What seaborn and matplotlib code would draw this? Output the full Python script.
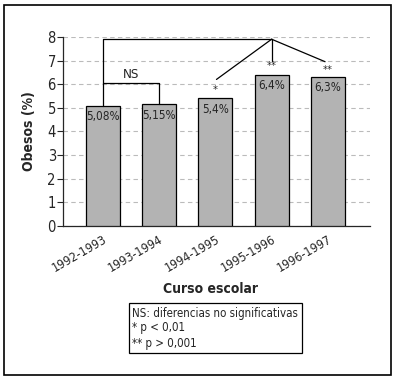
import matplotlib
matplotlib.use("Agg")
import matplotlib.pyplot as plt
import seaborn as sns
import pandas as pd

# datos
cursos = ['1992-1993', '1993-1994', '1994-1995', '1995-1996', '1996-1997']
obesos = [5.08, 5.15, 5.4, 6.4, 6.3]
etiquetas = ['5,08%', '5,15%', '5,4%', '6,4%', '6,3%']
signif = ['', '', '*', '**', '**']

sns.set_style('white')
plt.rcParams['font.family'] = ['DejaVu Sans']
plt.rcParams['font.stretch'] = 'condensed'

df = pd.DataFrame({'curso': cursos, 'obesos': obesos})

fig = plt.figure(figsize=(3.95, 3.8), dpi=100)
ax = fig.add_axes([0.159, 0.405, 0.778, 0.498])
sns.barplot(data=df, x='curso', y='obesos', color='#b3b3b3', edgecolor='black',
            linewidth=0.9, width=0.6, saturation=1, ax=ax, zorder=3)

ax.set_ylim(0, 8)
ax.set_xlim(-0.71, 4.75)
ax.set_yticks(range(9))
ax.yaxis.grid(True, linestyle=(0, (4, 3)), color='#bbbbbb', linewidth=0.8, zorder=0)
ax.set_axisbelow(True)
sns.despine(ax=ax)
ax.spines['left'].set_linewidth(0.9)
ax.spines['bottom'].set_linewidth(0.9)
ax.tick_params(axis='y', left=True, length=4, width=0.8, labelsize=10.5, pad=1)
ax.tick_params(axis='x', bottom=False, labelsize=9, pad=1)
plt.setp(ax.get_xticklabels(), rotation=30, ha='right', rotation_mode='anchor')
ax.set_xlabel('')
ax.set_ylabel('Obesos (%)', fontsize=10, fontweight='bold', labelpad=8)
fig.text(211 / 395, 1 - 289 / 380, 'Curso escolar',
         ha='center', va='center', fontsize=10, fontweight='bold')

# etiquetas dentro de las barras
for i, (v, t) in enumerate(zip(obesos, etiquetas)):
    ax.text(i, v - 0.18, t, ha='center', va='top', fontsize=8.5, zorder=4)

# asteriscos
star_y = [0, 0, 5.75, 6.75, 6.6]
for i, s in enumerate(signif):
    if s:
        ax.text(i, star_y[i], s, ha='center', va='center', fontsize=8, zorder=4)

# corchetes
lk = dict(color='black', linewidth=0.9, zorder=4, clip_on=False)
ax.plot([0, 0, 3], [obesos[0], 7.9, 7.9], **lk)
ax.plot([0, 1, 1], [6.05, 6.05, obesos[1]], **lk)
ax.text(0.5, 6.15, 'NS', ha='center', va='bottom', fontsize=9.5)
ax.plot([3, 3], [7.9, 7.0], **lk)
ax.plot([3, 2.02], [7.9, 6.2], **lk)
ax.plot([3, 3.95], [7.9, 6.95], **lk)

# leyenda en caja
fig.text(0.335, 1 - 328 / 380, 'NS: diferencias no significativas\n* p < 0,01\n** p > 0,001',
         ha='left', va='center', fontsize=8.3, linespacing=1.2,
         bbox=dict(boxstyle='square,pad=0.3', facecolor='white', edgecolor='black', linewidth=0.9))

# marco exterior
fig.patches.append(plt.Rectangle((0.011, 0.014), 0.978, 0.973, transform=fig.transFigure,
                                 fill=False, edgecolor='black', linewidth=1.2))

fig.savefig('out.png', dpi=100)
